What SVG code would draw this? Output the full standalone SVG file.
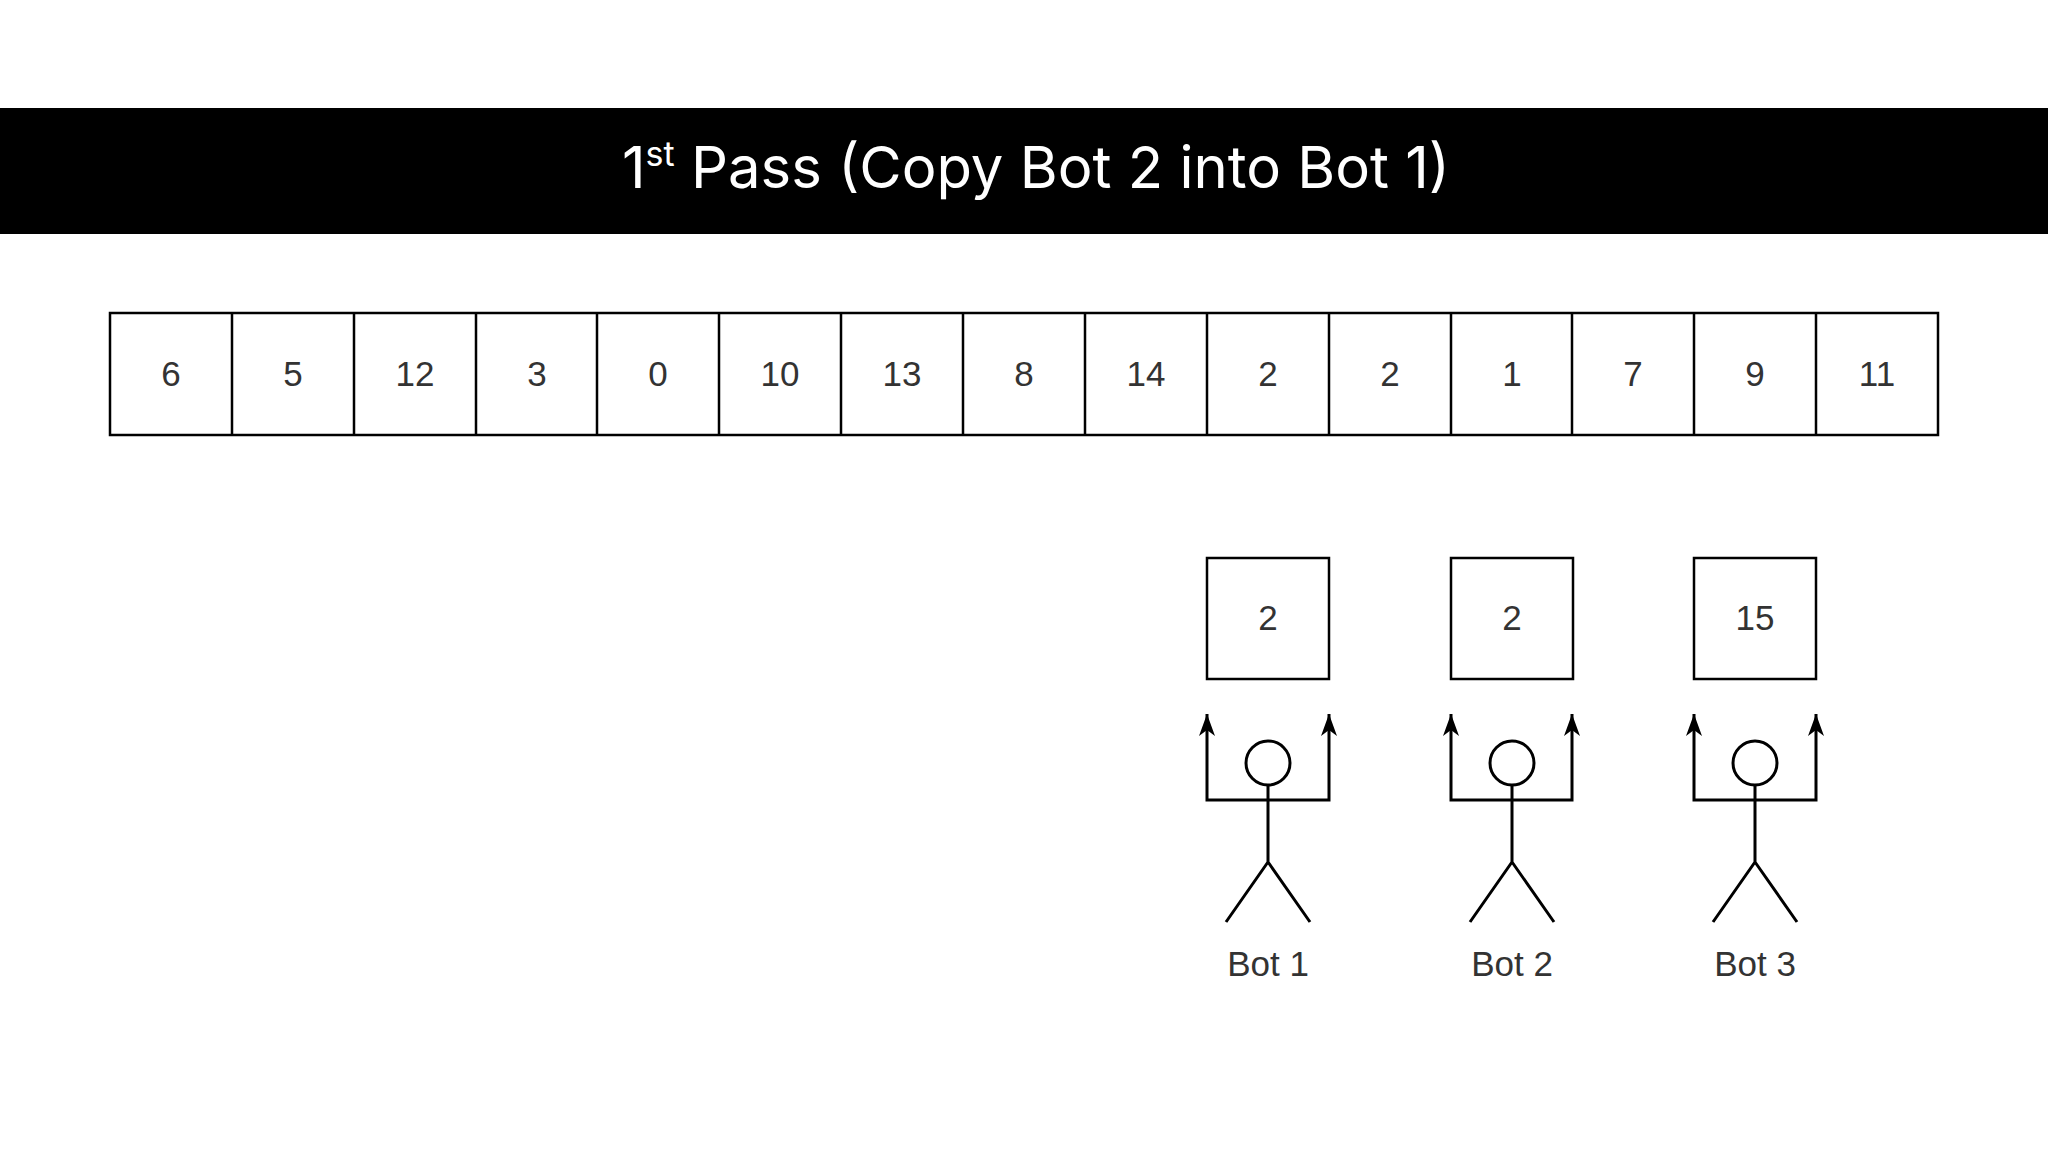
<svg xmlns="http://www.w3.org/2000/svg" width="2048" height="1152" viewBox="0 0 2048 1152">
<defs>
<marker id="ah" markerWidth="10" markerHeight="12" refX="5" refY="11" orient="auto-start-reverse" markerUnits="userSpaceOnUse" viewBox="0 0 10 12"><path d="M5,0 L10,12 L5,9 L0,12 Z" fill="#000"/></marker>
<marker id="a2" markerWidth="16" markerHeight="22" refX="8" refY="0" orient="0" markerUnits="userSpaceOnUse" viewBox="0 0 16 22"><path d="M8,0 L16,22 L8,16 L0,22 Z" fill="#000"/></marker>
</defs>
<style>
.c{fill:#fff;stroke:#000;stroke-width:2.5}
.t{font-family:"Liberation Sans",Arial,sans-serif;font-size:35px;fill:#333;text-anchor:middle}
.l{stroke:#000;stroke-width:3;fill:none}
</style>
<rect width="2048" height="1152" fill="#fff"/>
<g id="header"><rect x="0" y="108" width="2048" height="126" fill="#000"/>
<text x="1036" y="188" font-family="Inter,'Open Sans',sans-serif" font-size="58" fill="#fff" text-anchor="middle">1<tspan font-size="34" dy="-22">st</tspan><tspan dy="22"> Pass (Copy Bot 2 into Bot 1)</tspan></text></g>
<g id="array">
<rect class="c" x="110" y="313" width="1828" height="122"/>
<g class="l" style="stroke-width:2.5">
<path d="M232,313V435M354,313V435M476,313V435M597,313V435M719,313V435M841,313V435M963,313V435M1085,313V435M1207,313V435M1329,313V435M1451,313V435M1572,313V435M1694,313V435M1816,313V435"/>
</g>
<g class="t">
<text x="171" y="386">6</text><text x="293" y="386">5</text><text x="415" y="386">12</text><text x="537" y="386">3</text><text x="658" y="386">0</text><text x="780" y="386">10</text><text x="902" y="386">13</text><text x="1024" y="386">8</text><text x="1146" y="386">14</text><text x="1268" y="386">2</text><text x="1390" y="386">2</text><text x="1512" y="386">1</text><text x="1633" y="386">7</text><text x="1755" y="386">9</text><text x="1877" y="386">11</text>
</g></g>
<g id="bot1" transform="translate(1207,0)">
<rect class="c" x="0" y="558" width="122" height="121"/><text class="t" x="61" y="630">2</text>
<circle class="l" cx="61" cy="763" r="22"/><path class="l" d="M61,785V862M61,862L19,922M61,862L103,922"/>
<text class="t" x="61" y="976">Bot 1</text></g>
<g id="bot2" transform="translate(1451,0)">
<rect class="c" x="0" y="558" width="122" height="121"/><text class="t" x="61" y="630">2</text>
<circle class="l" cx="61" cy="763" r="22"/><path class="l" d="M61,785V862M61,862L19,922M61,862L103,922"/>
<text class="t" x="61" y="976">Bot 2</text></g>
<g id="bot3" transform="translate(1694,0)">
<rect class="c" x="0" y="558" width="122" height="121"/><text class="t" x="61" y="630">15</text>
<circle class="l" cx="61" cy="763" r="22"/><path class="l" d="M61,785V862M61,862L19,922M61,862L103,922"/>
<text class="t" x="61" y="976">Bot 3</text></g>
<g id="connectors" class="l">
<path d="M1207,714V800H1329V714" marker-start="url(#a2)" marker-end="url(#a2)"/>
<path d="M1451,714V800H1572V714" marker-start="url(#a2)" marker-end="url(#a2)"/>
<path d="M1694,714V800H1816V714" marker-start="url(#a2)" marker-end="url(#a2)"/>
</g>
</svg>
